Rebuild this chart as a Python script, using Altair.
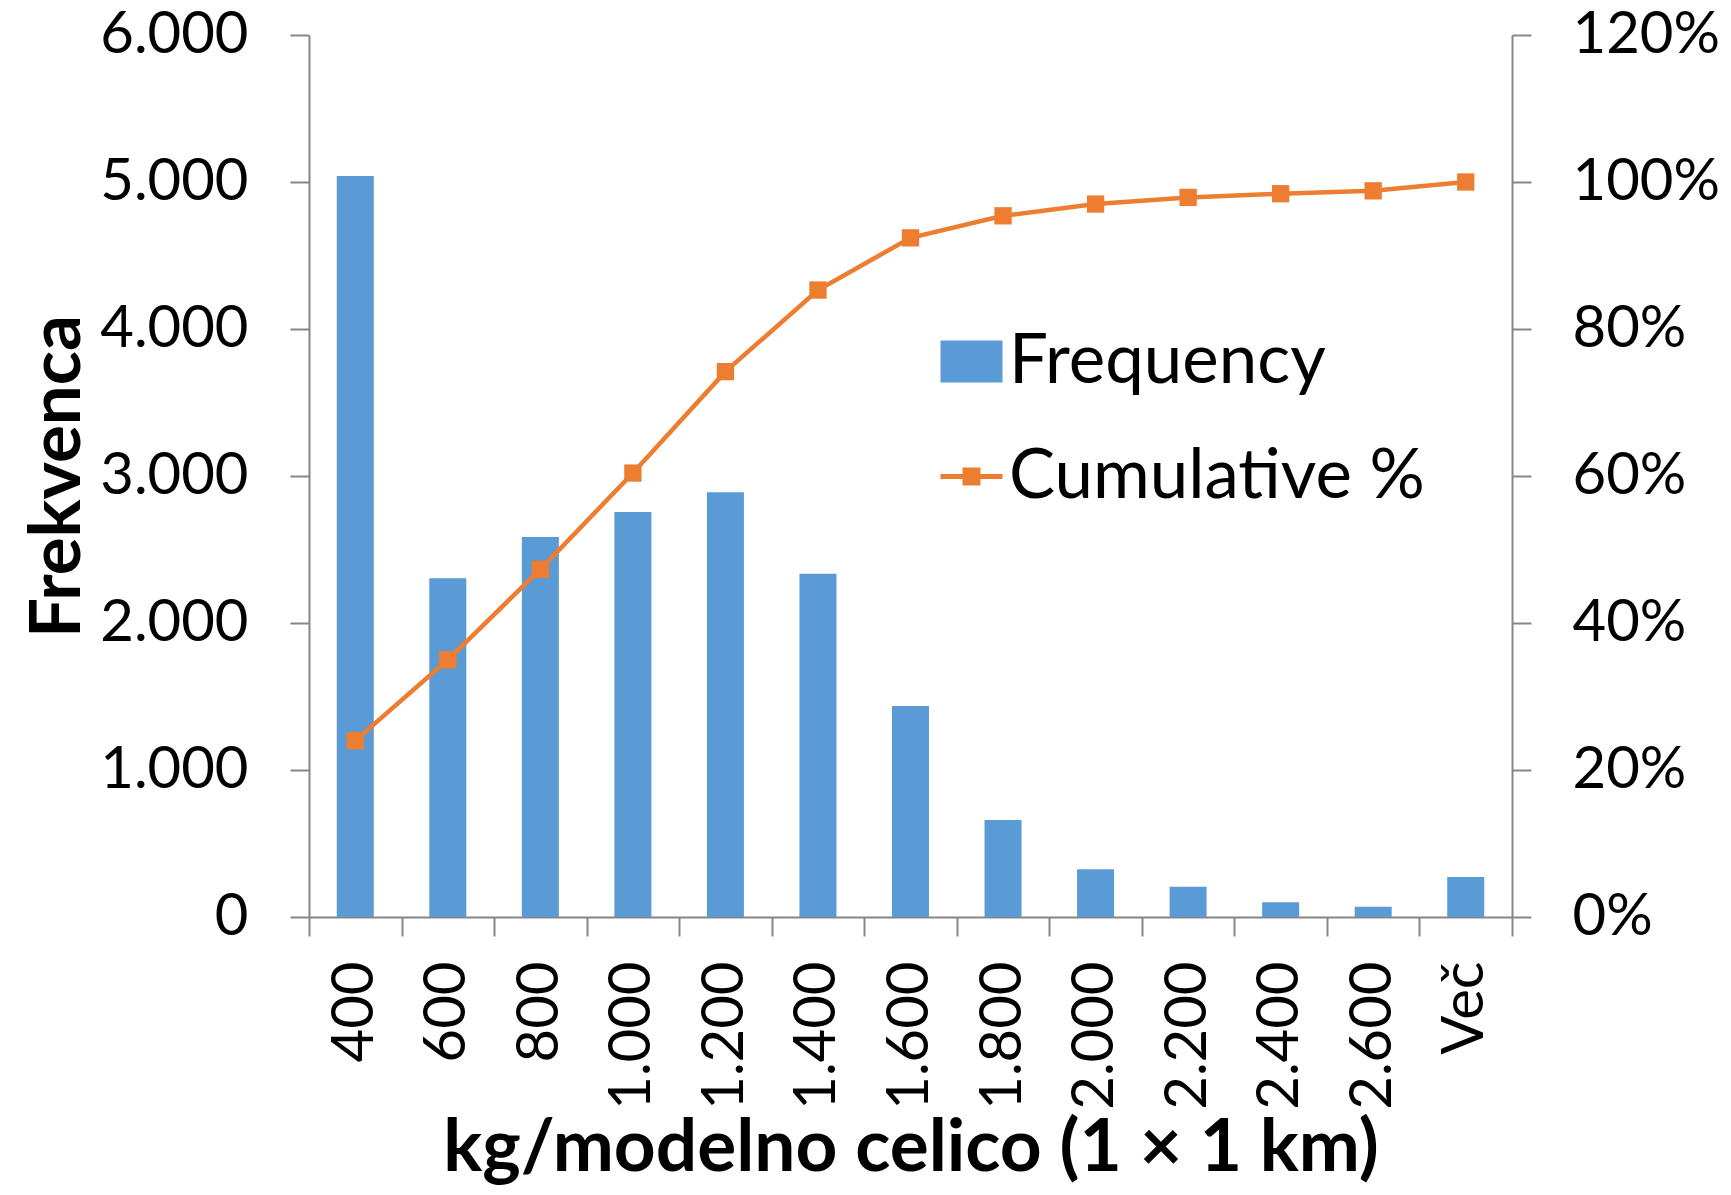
import altair as alt
import pandas as pd

categories = ["400", "600", "800", "1.000", "1.200", "1.400", "1.600",
              "1.800", "2.000", "2.200", "2.400", "2.600", "Več"]
frequency = [5040, 2305, 2585, 2755, 2890, 2335, 1435, 660, 325, 205, 100, 70, 272]
cumulative = [0.240, 0.350, 0.473, 0.604, 0.742, 0.853, 0.924, 0.954,
              0.970, 0.979, 0.984, 0.988, 1.000]
series_names = ["Frequency", "Cumulative %"]
series_colors = ["#5B9BD5", "#ED7D31"]
left_ticks = [0, 1000, 2000, 3000, 4000, 5000, 6000]
right_ticks = [0, 0.2, 0.4, 0.6, 0.8, 1.0, 1.2]

df = pd.DataFrame({"cat": categories, "freq": frequency, "cum": cumulative})
legend_df = pd.DataFrame({"series": series_names})

FONT = "Lato"
AXIS_GRAY = "#868686"

x_enc = alt.X(
    "cat:N", sort=categories,
    scale=alt.Scale(paddingInner=0, paddingOuter=0),
    axis=alt.Axis(
        title="kg/modelno celico (1 × 1 km)",
        labelAngle=-90, labelFontSize=58, labelPadding=25,
        titleFontSize=73, titleFontWeight="bold", titlePadding=3,
        tickBand="extent", tickSize=19, tickWidth=2, tickColor=AXIS_GRAY,
        domainColor=AXIS_GRAY, domainWidth=2, labelColor="black", titleColor="black",
    ),
)

bars = alt.Chart(df).mark_bar(color=series_colors[0], width={"band": 0.4}).encode(
    x=x_enc,
    y=alt.Y(
        "freq:Q",
        scale=alt.Scale(domain=[0, 6000], nice=False),
        axis=alt.Axis(
            title="Frekvenca", values=left_ticks,
            labelExpr="replace(format(datum.value, ','), ',', '.')",
            labelFontSize=58, labelPadding=42,
            titleFontSize=71, titleFontWeight="bold", titlePadding=15,
            tickSize=19, tickWidth=2, tickColor=AXIS_GRAY,
            domainColor=AXIS_GRAY, domainWidth=2, grid=False,
            labelColor="black", titleColor="black",
        ),
    ),
)

legend_cfg = dict(
    title=None, orient="none", legendX=628, legendY=292,
    symbolSize=3844, symbolStrokeWidth=0, symbolOpacity=1,
    labelFontSize=69, labelFont=FONT, labelColor="black", labelLimit=0,
    labelOffset=3, rowPadding=45, padding=0,
)

legend_points = alt.Chart(legend_df).mark_point(filled=True, opacity=0).encode(
    color=alt.Color("series:N",
                    scale=alt.Scale(domain=series_names, range=series_colors),
                    legend=alt.Legend(**legend_cfg)),
    shape=alt.Shape("series:N",
                    scale=alt.Scale(domain=series_names,
                                    range=["M-1,-0.68H1V0.68H-1Z",
                                           "M-1,-0.08H1V0.08H-1Z M-0.29,-0.29H0.29V0.29H-0.29Z"]),
                    legend=alt.Legend(**legend_cfg)),
)

y_right = alt.Y(
    "cum:Q",
    scale=alt.Scale(domain=[0, 1.2], nice=False),
    axis=alt.Axis(
        orient="right", title=None, values=right_ticks, format=".0%",
        labelFontSize=58, labelPadding=41,
        tickSize=19, tickWidth=2, tickColor=AXIS_GRAY,
        domainColor=AXIS_GRAY, domainWidth=2, grid=False, labelColor="black",
    ),
)

line = alt.Chart(df).mark_line(color=series_colors[1], strokeWidth=4.5).encode(
    x=alt.X("cat:N", sort=categories), y=y_right
)
squares = alt.Chart(df).mark_square(color=series_colors[1], size=300, opacity=1).encode(
    x=alt.X("cat:N", sort=categories), y=y_right
)

left_layer = alt.layer(bars, legend_points)
right_layer = alt.layer(line, squares)

chart = alt.layer(left_layer, right_layer).resolve_scale(
    y="independent"
).properties(
    width=1203, height=882,
    autosize=alt.AutoSizeParams(type="none"),
    padding={"left": 301, "top": 27, "right": 211, "bottom": 268},
).configure(
    font=FONT,
).configure_view(
    stroke=None
)

chart.save("out.html", embed_options={"renderer": "svg", "actions": False})
